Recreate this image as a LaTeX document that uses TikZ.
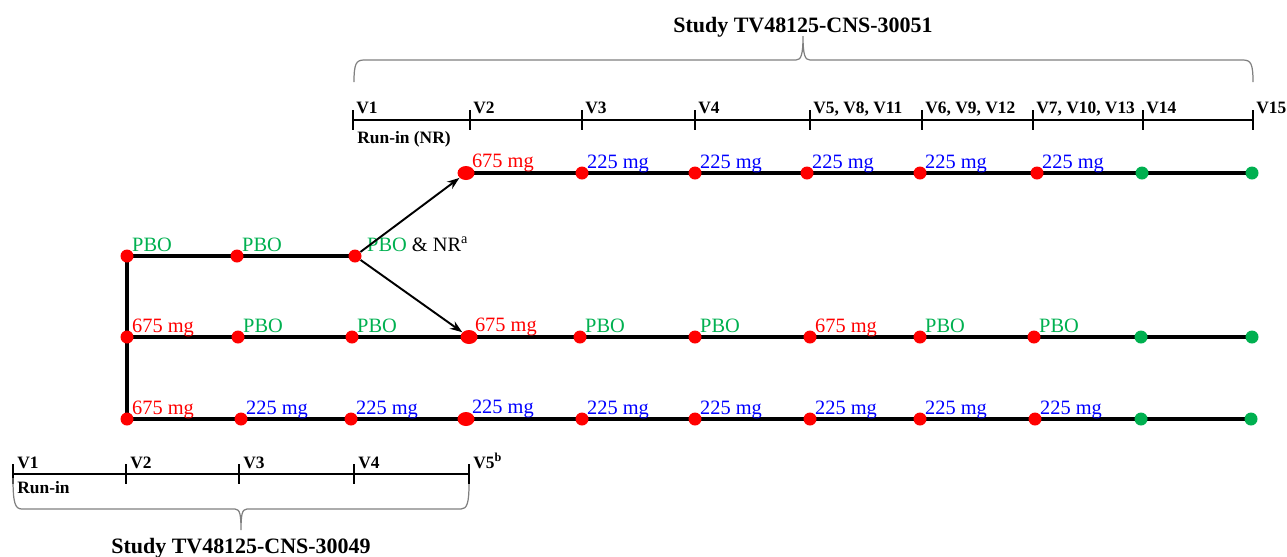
\documentclass[tikz,border=0pt]{standalone}
\usepackage{fontspec}
\setmainfont{Liberation Serif}
\usetikzlibrary{shapes.geometric,arrows.meta,backgrounds}
\definecolor{dred}{RGB}{255,0,0}
\definecolor{dgreen}{RGB}{0,176,80}
\definecolor{dblue}{RGB}{0,0,255}
\definecolor{brgray}{RGB}{128,128,128}
\begin{document}
\begin{tikzpicture}[x=0.02cm,y=-0.02cm]
\tikzstyle{dot} = [circle,inner sep=0,minimum size=0.26cm,draw=none];
\tikzstyle{bigdot} = [ellipse,inner sep=0,minimum width=0.34cm,minimum height=0.28cm,draw=none];
\tikzstyle{dose} = [anchor=base west,inner sep=0,font=\fontsize{11.6}{13}\selectfont];
\tikzstyle{visit} = [anchor=base west,inner sep=0,font=\bfseries\fontsize{9.9}{12}\selectfont];
\tikzstyle{study} = [anchor=base,inner sep=0,font=\bfseries\fontsize{12.5}{15}\selectfont];
\tikzstyle{arm} = [line width=2.4pt];
\tikzstyle{axis} = [line width=0.8pt];
\tikzstyle{brace} = [draw=brgray,line width=0.7pt];
\useasboundingbox (0,0) rectangle (1287,556);
% study 30051 time line
\foreach \x/\l/\t in {353/1/V1, 470/2/V2, 582/3/V3, 695/4/V4, 810/5/{V5, V8, V11},
	922/6/{V6, V9, V12}, 1033/7/{V7, V10, V13}, 1143/8/V14, 1253/9/V15}{
	\coordinate (t_\l) at (\x,120);
	\draw[axis] (\x,110) -- (\x,130);
	\node[visit] (tv_\l) at (\x+3,113) {\t};
}
\draw[axis] (t_1) -- (t_9);
\node[visit] (runNR) at (357,143) {Run-in (NR)};
\draw[brace] (354,82) .. controls (354,64) and (356,60) .. (364,60) -- (796,60)
	.. controls (801,60) and (803,55) .. (803,36) .. controls (803,55) and (805,60) .. (810,60)
	-- (1243,60) .. controls (1251,60) and (1253,64) .. (1253,82);
\node[study] (studyA) at (803,32) {Study TV48125-CNS-30051};
% study 30049 time line
\foreach \x/\l/\t in {13/1/V1, 126/2/V2, 239/3/V3, 354/4/V4, 469/5/V5\textsuperscript{b}}{
	\coordinate (s_\l) at (\x,474);
	\draw[axis] (\x,464) -- (\x,484);
	\node[visit] (sv_\l) at (\x+4,468) {\t};
}
\draw[axis] (s_1) -- (s_5);
\node[visit] (runB) at (17,493) {Run-in};
\draw[brace] (13,478) .. controls (13,503) and (15,509) .. (22,509) -- (235,509)
	.. controls (240,509) and (241,515) .. (241,530) .. controls (241,515) and (242,509) .. (247,509)
	-- (461,509) .. controls (467,509) and (469,503) .. (469,484);
\node[study] (studyB) at (241,553) {Study TV48125-CNS-30049};
% arm A
\node[bigdot,fill=dred] at (466,173) (a_1) [label={[dose,text=dred]45:675 mg}] {};
\foreach \x/\l/\t/\c in {582/2/225 mg/dblue, 695/3/225 mg/dblue, 807/4/225 mg/dblue,
	920/5/225 mg/dblue, 1037/6/225 mg/dblue}{
	\node[dot,fill=dred] at (\x,173) (a_\l) [label={[dose,text=\c]45:\t}] {};
}
\foreach \x/\l in {1142/7, 1252/8}{
	\node[dot,fill=dgreen] at (\x,173) (a_\l) {};
}
% arm B (before re-randomisation)
\foreach \x/\l/\t/\c in {127/1/PBO/dgreen, 237/2/PBO/dgreen}{
	\node[dot,fill=dred] at (\x,256) (b_\l) [label={[dose,text=\c]45:\t}] {};
}
\node[dot,fill=dred] at (355,256) (b_3)
	[label={[dose,text=dgreen,xshift=0.14cm]45:PBO {\color{black}\& NR\textsuperscript{a}}}] {};
% arm C
\foreach \x/\l/\t/\c in {127/1/675 mg/dred, 238/2/PBO/dgreen, 352/3/PBO/dgreen, 580/5/PBO/dgreen,
	695/6/PBO/dgreen, 810/7/675 mg/dred, 920/8/PBO/dgreen, 1034/9/PBO/dgreen}{
	\node[dot,fill=dred] at (\x,337) (c_\l) [label={[dose,text=\c]45:\t}] {};
}
\node[bigdot,fill=dred] at (469,337) (c_4) [label={[dose,text=dred]45:675 mg}] {};
\foreach \x/\l in {1141/10, 1252/11}{
	\node[dot,fill=dgreen] at (\x,337) (c_\l) {};
}
% arm D
\foreach \x/\l/\t/\c in {127/1/675 mg/dred, 241/2/225 mg/dblue, 351/3/225 mg/dblue, 582/5/225 mg/dblue,
	695/6/225 mg/dblue, 810/7/225 mg/dblue, 920/8/225 mg/dblue, 1035/9/225 mg/dblue}{
	\node[dot,fill=dred] at (\x,419) (d_\l) [label={[dose,text=\c]45:\t}] {};
}
\node[bigdot,fill=dred] at (466,419) (d_4) [label={[dose,text=dblue]45:225 mg}] {};
\foreach \x/\l in {1141/10, 1251/11}{
	\node[dot,fill=dgreen] at (\x,419) (d_\l) {};
}
% arm lines behind the dots
\begin{pgfonlayer}{background}
\foreach \i/\j in {1/2, 2/3, 3/4, 4/5, 5/6, 6/7, 7/8}{
	\draw[arm] (a_\i.center) -- (a_\j.center);}
\foreach \i/\j in {1/2, 2/3}{
	\draw[arm] (b_\i.center) -- (b_\j.center);}
\foreach \i/\j in {1/2, 2/3, 3/4, 4/5, 5/6, 6/7, 7/8, 8/9, 9/10, 10/11}{
	\draw[arm] (c_\i.center) -- (c_\j.center);
	\draw[arm] (d_\i.center) -- (d_\j.center);}
\draw[arm] (b_1.center) -- (d_1.center);
\end{pgfonlayer}
% re-randomisation
\draw[-{Stealth[length=7pt,width=5pt]},line width=1.1pt] (b_3) -- (a_1);
\draw[-{Stealth[length=7pt,width=5pt]},line width=1.1pt] (b_3) -- (c_4);
\end{tikzpicture}
\end{document}
